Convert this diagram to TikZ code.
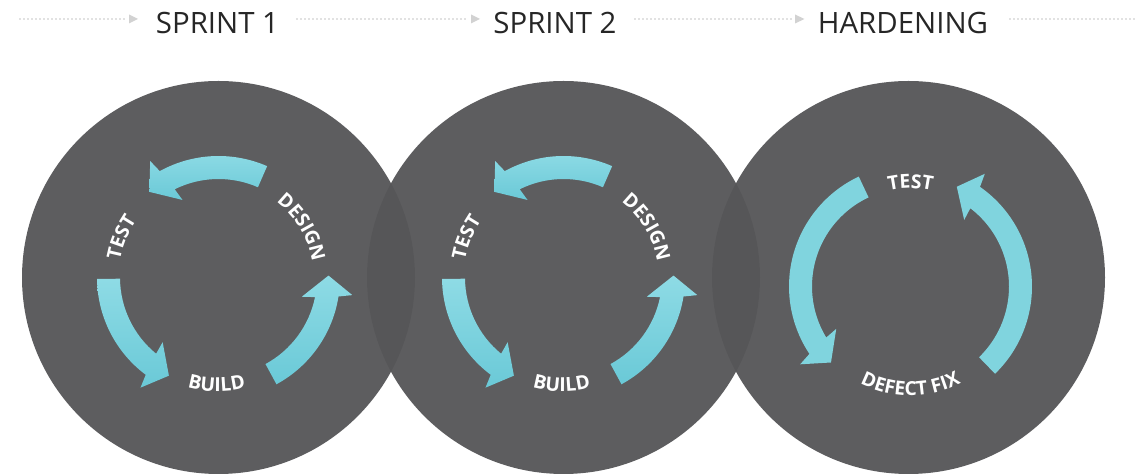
\documentclass[tikz,border=0pt]{standalone}
\usepackage{fontspec}
\usetikzlibrary{decorations.text}
\newfontfamily\hdrfont{Open Sans}
\newfontfamily\lblfont{Open Sans}
\definecolor{discgray}{RGB}{86,86,88}
\definecolor{cyanL}{RGB}{142,219,229}
\definecolor{cyanD}{RGB}{106,201,215}
\definecolor{cyanM}{RGB}{128,212,222}
\definecolor{dotc}{RGB}{196,196,196}
\definecolor{triC}{RGB}{210,210,210}
\definecolor{hdrc}{RGB}{38,38,38}
\newcommand\lblsty{\lblfont\bfseries\fontsize{19.3}{21}\selectfont}
\tikzset{
  disc/.style={circle, minimum size=393pt, inner sep=0pt, fill=discgray, fill opacity=0.96},
  hdr/.style={font=\hdrfont\fontsize{29.4}{32}\selectfont, text=hdrc, anchor=base, inner sep=0pt},
  dotline/.style={draw=dotc, line width=1.6pt, line cap=round, dash pattern=on 0pt off 4pt},
  tri/.style={fill=triC},
  grad/.style={top color=cyanL, bottom color=cyanD},
  flat/.style={fill=cyanM},
}
% #1 tail angle, #2 head offset, #3 style
\newcommand\cycarrow[3]{%
  \pgfmathsetmacro\cyTa{#1}%
  \pgfmathsetmacro\cyIa{#1+#2+1.5}%
  \pgfmathsetmacro\cyOa{#1+#2+4}%
  \pgfmathsetmacro\cyHi{#1+#2}%
  \pgfmathsetmacro\cyHo{#1+#2+5.5}%
  \pgfmathsetmacro\cyTp{#1+#2+14}%
  \path[#3] (\cyTa:98.5pt) -- (\cyTa:121.5pt)
    arc[start angle=\cyTa, end angle=\cyOa, radius=121.5pt]
    -- (\cyHo:135pt) -- (\cyTp:110pt) -- (\cyHi:85.5pt) -- (\cyIa:98.5pt)
    arc[start angle=\cyIa, end angle=\cyTa, radius=98.5pt] -- cycle;
}
% #1 text, #2 start angle, #3 end angle, #4 radius (pt)
\newcommand\arclabel[4]{%
  \path[decorate, decoration={text along path, text align=center, text color=white,
    text={|\lblsty|#1}}] (#2:#4pt) arc[start angle=#2, end angle=#3, radius=#4pt];
}
\begin{document}
\begin{tikzpicture}[x=1pt, y=1pt]
\useasboundingbox (0,0) rectangle (1136,476);
% circles
\node[disc] (c1) at (218.5,198.5) {};
\node[disc] (c2) at (563.5,198.5) {};
\node[disc] (c3) at (908.5,198.5) {};
% header
\node[hdr] (h1) at (217.5,442.7) {SPRINT 1};
\node[hdr] (h2) at (555,442.7) {SPRINT 2};
\node[hdr] (h3) at (903,442.7) {HARDENING};
\coordinate (d1a) at (20,457);   \coordinate (d1b) at (126,457);
\coordinate (d2a) at (297,457);  \coordinate (d2b) at (468,457);
\coordinate (d3a) at (635,457);  \coordinate (d3b) at (792,457);
\coordinate (d4a) at (1010,457); \coordinate (d4b) at (1136,457);
\draw[dotline] (d1a) -- (d1b);
\draw[dotline] (d2a) -- (d2b);
\draw[dotline] (d3a) -- (d3b);
\draw[dotline] (d4a) -- (d4b);
\fill[tri] (129,461.5) -- (138,457) -- (129,452.5) -- cycle;
\fill[tri] (471,461.5) -- (480,457) -- (471,452.5) -- cycle;
\fill[tri] (795,461.5) -- (804.5,457) -- (795,452.5) -- cycle;
% sprint 1
\begin{scope}[shift={(218.5,198.5)}]
  \cycarrow{66.4}{48.5}{grad}
  \cycarrow{180.7}{48.5}{grad}
  \cycarrow{298.5}{48.5}{grad}
  \arclabel{TEST}{190}{125}{100}
  \arclabel{DESIGN}{70}{-8}{95}
  \arclabel{BUILD}{239}{299}{114}
\end{scope}
% sprint 2
\begin{scope}[shift={(563.5,198.5)}]
  \cycarrow{66.4}{48.5}{grad}
  \cycarrow{180.7}{48.5}{grad}
  \cycarrow{298.5}{48.5}{grad}
  \arclabel{TEST}{190}{125}{100}
  \arclabel{DESIGN}{70}{-8}{95}
  \arclabel{BUILD}{239}{299}{114}
\end{scope}
% hardening
\begin{scope}[shift={(910.5,189.5)}]
  \cycarrow{115.2}{94.5}{flat}
  \cycarrow{-45.9}{97}{flat}
  \arclabel{TEST}{125}{55}{98}
  \arclabel{DEFECT FIX}{225}{315}{109}
\end{scope}
\end{tikzpicture}
\end{document}
